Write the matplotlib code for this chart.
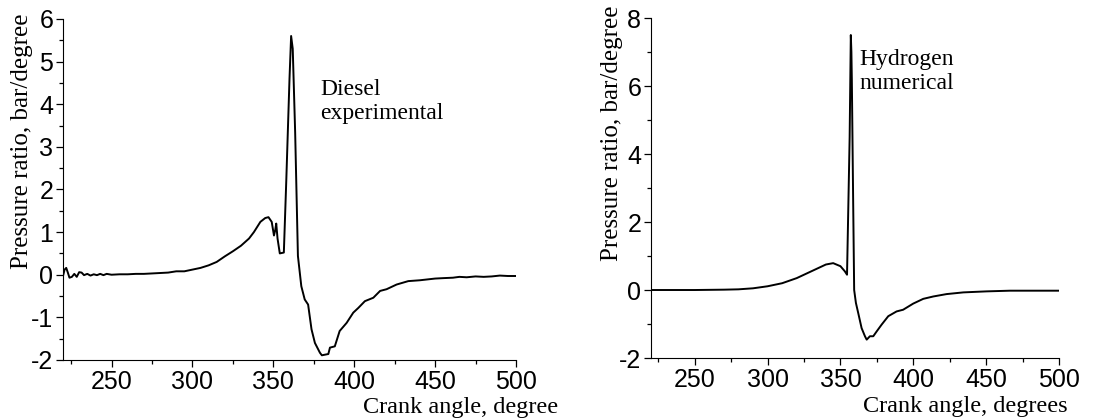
import matplotlib
matplotlib.use("Agg")
import matplotlib.pyplot as plt
from matplotlib.ticker import MultipleLocator

plt.rcParams["axes.unicode_minus"] = False

diesel_angle = [220, 221, 222, 223, 224, 225.5, 227, 228.5, 230, 231.5, 233, 235, 237, 239,
                241, 243, 245, 247, 250, 255, 260, 265, 270, 275, 280, 285, 290, 295, 300,
                305, 310, 315, 320, 325, 330, 335, 338, 340, 342, 345, 347, 349, 350.4, 351.2,
                351.8, 352.6, 354, 356.5, 358, 360, 361, 362, 363.5, 365.2, 367.3, 369.4,
                371.5, 373.6, 375.7, 378.8, 380, 384, 385, 388, 391, 395.3, 399.4, 402.5,
                406.6, 411.8, 416, 420, 426.2, 433.4, 440.6, 450, 455, 461, 465, 469.5, 475,
                480, 485, 490, 495, 500]
diesel_rate = [-0.03, 0.12, 0.16, 0.05, -0.07, -0.05, 0.02, -0.05, 0.06, 0.05, -0.01, 0.02,
               -0.02, 0.01, -0.01, 0.02, -0.01, 0.02, 0.0, 0.01, 0.01, 0.02, 0.02, 0.03, 0.04,
               0.05, 0.08, 0.08, 0.12, 0.16, 0.22, 0.3, 0.43, 0.55, 0.68, 0.85, 1.0, 1.12,
               1.24, 1.33, 1.35, 1.24, 0.92, 1.05, 1.2, 0.85, 0.5, 0.52, 2.2, 4.6, 5.6, 5.3,
               3.33, 0.44, -0.27, -0.58, -0.70, -1.28, -1.6, -1.83, -1.89, -1.86, -1.71,
               -1.68, -1.32, -1.13, -0.89, -0.78, -0.62, -0.54, -0.38, -0.34, -0.23, -0.15,
               -0.13, -0.09, -0.08, -0.07, -0.05, -0.06, -0.04, -0.05, -0.04, -0.02, -0.03,
               -0.03]

# Hydrogen, numerical
hydrogen_angle = [220, 250, 270, 280, 290, 300, 310, 320, 330, 340, 345, 350, 353, 354.5,
                  356.3, 357.1, 357.5, 357.8, 358.7, 359.4, 360.6, 362.2, 364.5, 366.8, 368,
                  370.2, 372.5, 374.8, 378.2, 382.8, 388.5, 393, 399.9, 406.8, 413.7, 422.8,
                  434.3, 450.3, 466.3, 500]
hydrogen_rate = [0.0, 0.0, 0.01, 0.02, 0.05, 0.11, 0.2, 0.35, 0.55, 0.75, 0.79, 0.7, 0.55,
                 0.45, 4.5, 7.5, 7.0, 6.2, 2.66, 0.0, -0.38, -0.68, -1.12, -1.36, -1.46, -1.36,
                 -1.36, -1.22, -1.02, -0.77, -0.63, -0.58, -0.40, -0.26, -0.19, -0.12, -0.07,
                 -0.04, -0.02, -0.02]

x_ticks = [250, 300, 350, 400, 450, 500]


def style_axes(ax, ymin, ymax, ystep, yminor):
    ax.spines["top"].set_visible(False)
    ax.spines["right"].set_visible(False)
    ax.set_xlim(220, 500)
    ax.set_ylim(ymin, ymax)
    ax.set_xticks(x_ticks)
    ax.xaxis.set_minor_locator(MultipleLocator(25))
    ax.yaxis.set_major_locator(MultipleLocator(ystep))
    ax.yaxis.set_minor_locator(MultipleLocator(yminor))
    ax.tick_params(which="major", direction="out", length=5, width=0.9, labelsize=18, pad=2)
    ax.tick_params(which="minor", direction="out", length=3, width=0.9)
    for lab in ax.get_xticklabels() + ax.get_yticklabels():
        lab.set_family("Liberation Sans")


serif = "Liberation Serif"
fig = plt.figure(figsize=(11.09, 4.2), dpi=100)

ax1 = fig.add_axes([0.0568, 0.1429, 0.4085, 0.812])
ax1.plot(diesel_angle, diesel_rate, color="black", lw=1.4)
style_axes(ax1, -2, 6, 1, 0.5)
ax1.set_ylabel("Pressure ratio, bar/degree", family=serif, fontsize=18)
ax1.yaxis.set_label_coords(-0.066, 0.642)
ax1.set_xlabel("Crank angle, degree", family=serif, fontsize=17.5, ha="right")
ax1.xaxis.set_label_coords(1.093, -0.11)
ax1.text(379, 4.6, "Diesel\nexperimental", family=serif, fontsize=17, va="top", linespacing=1.2)

ax2 = fig.add_axes([0.587, 0.1476, 0.368, 0.8095])
ax2.plot(hydrogen_angle, hydrogen_rate, color="black", lw=1.4)
style_axes(ax2, -2, 8, 2, 1)
ax2.set_ylabel("Pressure ratio, bar/degree", family=serif, fontsize=18)
ax2.yaxis.set_label_coords(-0.069, 0.662)
ax2.set_xlabel("Crank angle, degrees", family=serif, fontsize=17.5, ha="right")
ax2.xaxis.set_label_coords(1.022, -0.113)
ax2.text(363, 7.1, "Hydrogen\nnumerical", family=serif, fontsize=17, va="top", linespacing=1.2)

fig.savefig("out.png", dpi=100)
